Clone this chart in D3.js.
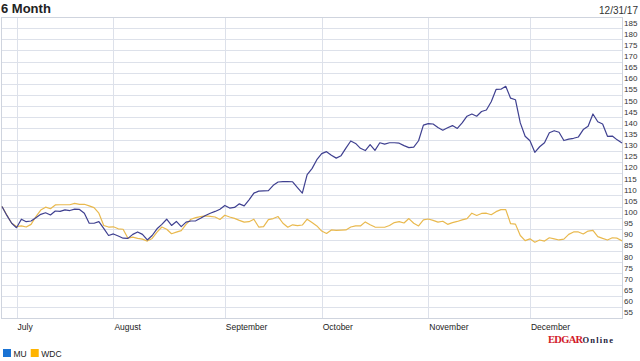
<!DOCTYPE html>
<html>
<head>
<meta charset="utf-8">
<script src="https://cdn.jsdelivr.net/npm/d3@7/dist/d3.min.js"></script>
<style>
  html, body { margin: 0; padding: 0; background: #fff; }
  svg { display: block; font-family: 'Liberation Sans', Arial, sans-serif; }
</style>
</head>
<body>
<svg id="chart" width="640" height="361"></svg>
<script>
// trading days, Jun 28 2017 .. Dec 29 2017, rebased to 100
const muValues = [
  100, 96, 92.5, 90.5, 94.3, 93.2, 93.5, 95, 96.5, 97.2,
  96.2, 98, 97.8, 98.5, 98.2, 98.8, 98.7, 97, 92.5, 92.5,
  93.2, 90.2, 87, 87.7, 86.8, 85.8, 85.7, 87.5, 88.6, 87.5,
  85, 87, 90, 92, 94.3, 91.5, 93.3, 91, 93, 93.5,
  93.6, 94.7, 96, 97, 97.8, 98.8, 100.5, 99.3, 99.6, 101.2,
  100.3, 103, 106, 106.9, 107, 107.1, 109.5, 111, 111.2, 111.2,
  111.1, 108.5, 106, 114.3, 117, 121, 123.7, 124.6, 123, 121.7,
  122.8, 126.2, 129.4, 128.3, 126.1, 125.1, 127.8, 125.2, 128.6, 128,
  128.6, 128.6, 128.4, 127.3, 126.4, 126.6, 129.5, 136.5, 137.2, 137,
  135.4, 134.2, 135.3, 136.3, 135, 137.5, 140.5, 141.5, 140.5, 142.6,
  143.3, 147, 152.5, 152.6, 153.9, 148.6, 147.9, 137.5, 131.5, 129.5,
  124.3, 126.8, 128.6, 133.1, 134, 133.3, 129.6, 130.2, 130.6, 131.2,
  134.5, 136, 141.5, 138, 137, 131.5, 131.6, 129.9, 128.5
];

const wdcValues = [
  100, 96.2, 92.5, 91, 91.3, 90.8, 92, 95.5, 98.4, 99.7,
  99, 100.7, 100.8, 100.8, 100.8, 101.4, 101, 101, 100.3, 99.5,
  97, 91.5, 90.8, 90.9, 90, 89.8, 85.8, 86.3, 85.7, 85.4,
  84.5, 85.7, 88.5, 90.8, 89.8, 87.8, 88.5, 89.2, 92, 94.3,
  95, 95.5, 95.8, 95.6, 95.3, 94.2, 96.1, 95.3, 94.7, 93.8,
  93, 93.2, 94.3, 90.8, 91, 94.1, 94.6, 95.5, 92.5, 90.7,
  91.8, 91.4, 91.7, 94.3, 92.8, 91.3, 89, 87.9, 89.5, 89.3,
  89.4, 89.5, 90.8, 91.3, 91.3, 93.1, 91.8, 90.8, 90.7, 90.7,
  91.5, 92.8, 93.2, 92.6, 94.6, 92.5, 91.3, 94, 94.4, 93.8,
  93, 93.4, 92, 92.8, 93.3, 94, 94.6, 97, 96, 96.9,
  97, 96.3, 97.7, 98.6, 98.6, 92.3, 92.1, 87, 84.7, 85.5,
  84, 85, 84.5, 86, 85.5, 85, 85.4, 87.5, 88.6, 88.6,
  87.7, 89, 89.3, 86.5, 85.7, 85, 86, 85.8, 84.6
];

const seriesNames = ['MU', 'WDC'];
const seriesColors = ['#3f4090', '#e9b94e'];
const legendColors = ['#1a73d4', '#ffb400'];

// month labels and the trading-day index each month starts at
const monthLabels = ['July', 'August', 'September', 'October', 'November', 'December'];
const monthStart = [3, 23, 46, 66, 88, 109];

const yTicks = d3.range(50, 186, 5);

const margin = {top: 17, left: 2, right: 18, bottom: 43};
const width = 640, height = 361;

const svg = d3.select('#chart');

const xScale = d3.scaleLinear()
  .domain([0, muValues.length - 1])
  .range([margin.left, width - margin.right]);

const yScale = d3.scaleLinear()
  .domain([50, 185])
  .range([height - margin.bottom, margin.top]);

const gridColor = '#dde1ea';

// horizontal grid
svg.append('g')
  .selectAll('line')
  .data(yTicks)
  .join('line')
  .attr('x1', margin.left)
  .attr('x2', width - margin.right)
  .attr('y1', d => Math.round(yScale(d)) + 0.5)
  .attr('y2', d => Math.round(yScale(d)) + 0.5)
  .attr('stroke', gridColor)
  .attr('stroke-width', 1);

// vertical month lines
svg.append('g')
  .selectAll('line')
  .data(monthStart)
  .join('line')
  .attr('x1', d => Math.round(xScale(d)) + 0.5)
  .attr('x2', d => Math.round(xScale(d)) + 0.5)
  .attr('y1', margin.top)
  .attr('y2', height - margin.bottom)
  .attr('stroke', gridColor)
  .attr('stroke-width', 1);

// frame
svg.append('rect')
  .attr('x', margin.left - 0.5)
  .attr('y', margin.top + 0.5)
  .attr('width', width - margin.right - margin.left + 1)
  .attr('height', height - margin.bottom - margin.top)
  .attr('fill', 'none')
  .attr('stroke', '#cfd4de');

// y labels, right side, hanging under their grid line
svg.append('g')
  .selectAll('text')
  .data(yTicks.filter(d => d > 50))
  .join('text')
  .attr('x', width - margin.right + 2)
  .attr('y', d => yScale(d) + 8.5)
  .attr('font-size', 8)
  .attr('fill', '#333')
  .text(d => d);

// month labels
svg.append('g')
  .selectAll('text')
  .data(monthLabels)
  .join('text')
  .attr('x', (d, i) => xScale(monthStart[i]) + 1)
  .attr('y', 330)
  .attr('font-size', 8.5)
  .attr('fill', '#222')
  .text(d => d);

// lines
const line = d3.line()
  .x((d, i) => xScale(i))
  .y(d => yScale(d));

[wdcValues, muValues].forEach((vals, k) => {
  const c = k === 0 ? seriesColors[1] : seriesColors[0];
  svg.append('path')
    .datum(vals)
    .attr('fill', 'none')
    .attr('stroke', c)
    .attr('stroke-width', 1.2)
    .attr('stroke-linejoin', 'round')
    .attr('d', line);
});

// title and date
svg.append('text')
  .attr('x', 1)
  .attr('y', 13)
  .attr('font-size', 13)
  .attr('font-weight', 'bold')
  .attr('fill', '#222')
  .text('6 Month');

svg.append('text')
  .attr('x', 638)
  .attr('y', 14)
  .attr('text-anchor', 'end')
  .attr('font-size', 10)
  .attr('fill', '#333')
  .text('12/31/17');

// legend
const legend = svg.append('g').attr('transform', 'translate(3,349)');
let lx = 0;
seriesNames.forEach((name, i) => {
  legend.append('rect')
    .attr('x', lx)
    .attr('y', 0)
    .attr('width', 8)
    .attr('height', 8)
    .attr('fill', legendColors[i]);
  const t = legend.append('text')
    .attr('x', lx + 10.5)
    .attr('y', 7.8)
    .attr('font-size', 8.5)
    .attr('fill', '#222')
    .text(name);
  lx += 10.5 + t.node().getComputedTextLength() + 4;
});

// EDGAR Online logo, one text with two styled runs
const logo = svg.append('text')
  .attr('x', 548)
  .attr('y', 343)
  .attr('font-family', "'Liberation Serif', 'Times New Roman', serif")
  .attr('font-weight', 'bold');

logo.append('tspan')
  .attr('font-size', 10.5)
  .attr('letter-spacing', -0.7)
  .attr('fill', '#d21a2a')
  .text('EDGAR');

logo.append('tspan')
  .attr('font-size', 8.5)
  .attr('letter-spacing', 1.2)
  .attr('fill', '#1c1c3c')
  .text('Online');
</script>
</body>
</html>
